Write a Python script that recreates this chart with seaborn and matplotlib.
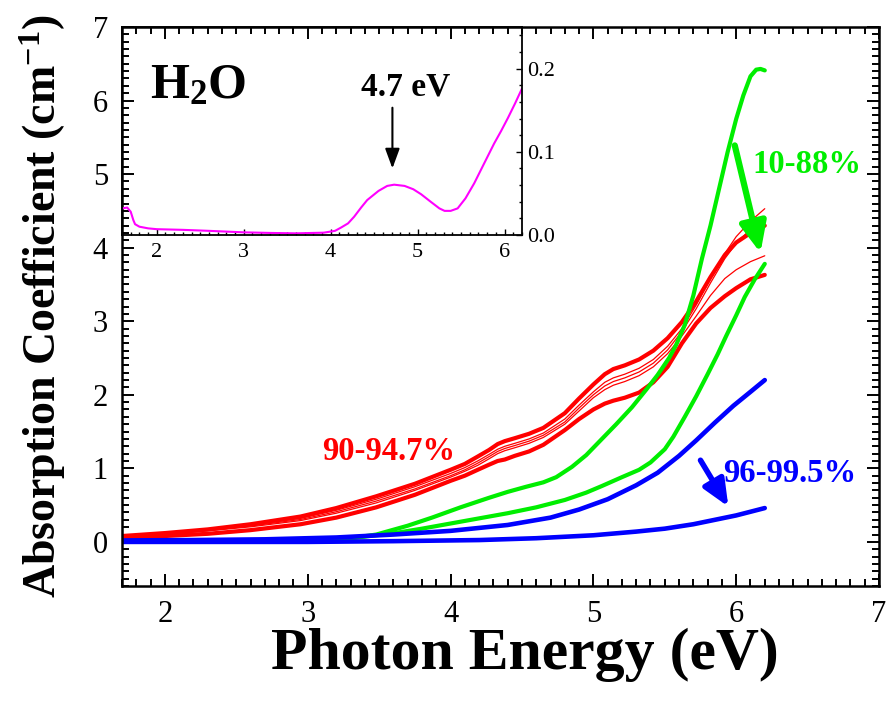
import numpy as np
import pandas as pd
import matplotlib
matplotlib.use("Agg")
import matplotlib.pyplot as plt
from matplotlib.ticker import MultipleLocator
import seaborn as sns

# ---------------- data ----------------
red_x = [1.7, 2.0, 2.3, 2.6, 2.95, 3.2, 3.48, 3.75, 4.0, 4.1, 4.19, 4.27, 4.33,
         4.38, 4.45, 4.55, 4.65, 4.8, 4.9, 5.0, 5.08, 5.14, 5.22, 5.32, 5.42,
         5.52, 5.62, 5.72, 5.82, 5.92, 6.0, 6.1, 6.2]
red_top = [0.08, 0.12, 0.17, 0.24, 0.345, 0.46, 0.62, 0.79, 0.98, 1.06, 1.16, 1.25,
           1.33, 1.37, 1.41, 1.47, 1.55, 1.75, 1.95, 2.14, 2.28, 2.35, 2.40, 2.48,
           2.60, 2.77, 2.99, 3.27, 3.60, 3.90, 4.07, 4.20, 4.30]
red_thin1 = [0.075, 0.11, 0.16, 0.225, 0.32, 0.43, 0.58, 0.75, 0.93, 1.01, 1.10,
             1.19, 1.26, 1.30, 1.34, 1.40, 1.48, 1.67, 1.86, 2.04, 2.17, 2.23, 2.28,
             2.36, 2.48, 2.66, 2.90, 3.22, 3.58, 3.92, 4.15, 4.36, 4.53]
red_thin2 = [0.07, 0.105, 0.155, 0.215, 0.305, 0.41, 0.555, 0.72, 0.90, 0.98, 1.07,
             1.16, 1.23, 1.27, 1.31, 1.37, 1.45, 1.63, 1.82, 2.00, 2.12, 2.18, 2.23,
             2.31, 2.43, 2.61, 2.86, 3.17, 3.52, 3.85, 4.06, 4.25, 4.39]
red_thin3 = [0.065, 0.10, 0.15, 0.205, 0.29, 0.39, 0.53, 0.70, 0.88, 0.96, 1.04,
             1.13, 1.20, 1.24, 1.28, 1.34, 1.42, 1.60, 1.78, 1.96, 2.07, 2.13, 2.18,
             2.26, 2.38, 2.56, 2.80, 3.07, 3.35, 3.58, 3.70, 3.81, 3.89]
red_bot = [0.05, 0.08, 0.11, 0.16, 0.24, 0.33, 0.47, 0.64, 0.83, 0.90, 0.98, 1.05,
           1.10, 1.12, 1.17, 1.23, 1.32, 1.52, 1.67, 1.80, 1.88, 1.92, 1.96, 2.03,
           2.17, 2.38, 2.70, 2.97, 3.18, 3.34, 3.45, 3.57, 3.63]

green1_x = [1.7, 2.5, 3.0, 3.3, 3.48, 3.7, 3.87, 4.07, 4.27, 4.4, 4.53, 4.65, 4.74,
            4.85, 4.95, 5.05, 5.16, 5.27, 5.37, 5.45, 5.53, 5.58, 5.64, 5.7, 5.76,
            5.82, 5.88, 5.94, 6.0, 6.05, 6.1, 6.14, 6.17, 6.2]
green1_y = [0.0, 0.0, 0.02, 0.05, 0.10, 0.22, 0.33, 0.47, 0.60, 0.68, 0.75, 0.81,
            0.88, 1.02, 1.18, 1.38, 1.60, 1.83, 2.07, 2.27, 2.50, 2.68, 2.95, 3.35,
            3.85, 4.30, 4.80, 5.30, 5.75, 6.07, 6.33, 6.42, 6.43, 6.41]
green2_x = [1.7, 2.5, 3.0, 3.3, 3.61, 3.8, 4.0, 4.2, 4.4, 4.6, 4.8, 4.95, 5.06, 5.2,
            5.32, 5.4, 5.5, 5.56, 5.64, 5.72, 5.8, 5.87, 5.93, 6.0, 6.06, 6.13, 6.2]
green2_y = [0.0, 0.0, 0.02, 0.05, 0.12, 0.18, 0.25, 0.32, 0.39, 0.47, 0.57, 0.67,
            0.76, 0.88, 0.98, 1.08, 1.26, 1.43, 1.70, 1.98, 2.28, 2.55, 2.80, 3.08,
            3.33, 3.57, 3.78]

blue1_x = [1.7, 2.2, 2.7, 3.2, 3.6, 4.0, 4.4, 4.7, 4.9, 5.1, 5.3, 5.45, 5.6, 5.72,
           5.85, 5.98, 6.1, 6.2]
blue1_y = [0.02, 0.025, 0.035, 0.06, 0.10, 0.15, 0.23, 0.33, 0.44, 0.58, 0.77, 0.94,
           1.17, 1.38, 1.62, 1.85, 2.04, 2.20]
blue2_x = [1.7, 3.0, 3.6, 4.2, 4.6, 5.0, 5.3, 5.5, 5.7, 5.85, 6.0, 6.1, 6.2]
blue2_y = [0.0, 0.0, 0.01, 0.025, 0.05, 0.09, 0.14, 0.18, 0.24, 0.30, 0.36, 0.41, 0.46]

water_x = [1.6, 1.66, 1.7, 1.73, 1.75, 1.8, 1.9, 2.0, 2.3, 2.6, 3.0, 3.3, 3.6, 3.92,
           4.05, 4.12, 4.2, 4.27, 4.35, 4.42, 4.55, 4.65, 4.73, 4.85, 4.95, 5.04,
           5.15, 5.25, 5.31, 5.38, 5.46, 5.55, 5.65, 5.76, 5.88, 5.96, 6.04, 6.12, 6.2]
water_y = [0.032, 0.033, 0.028, 0.018, 0.013, 0.010, 0.008, 0.007, 0.0062, 0.005,
           0.0032, 0.0025, 0.002, 0.0028, 0.005, 0.009, 0.014, 0.022, 0.033, 0.042,
           0.053, 0.059, 0.0605, 0.059, 0.055, 0.049, 0.040, 0.032, 0.029, 0.029,
           0.032, 0.044, 0.062, 0.085, 0.110, 0.125, 0.141, 0.158, 0.176]

main_xticks = [2, 3, 4, 5, 6, 7]
main_yticks = [0, 1, 2, 3, 4, 5, 6, 7]
inset_xticks = [2, 3, 4, 5, 6]
inset_yticks = [0.0, 0.1, 0.2]
inset_yticklabels = ["0.0", "0.1", "0.2"]

# ---------------- style ----------------
sns.set_style("ticks")
plt.rcParams["font.family"] = ["Liberation Serif", "DejaVu Serif"]
plt.rcParams["mathtext.fontset"] = "custom"
plt.rcParams["mathtext.rm"] = "Liberation Serif"
plt.rcParams["mathtext.bf"] = "Liberation Serif:bold"
plt.rcParams["mathtext.default"] = "bf"
for k in ["text.color", "axes.labelcolor", "xtick.color", "ytick.color",
          "axes.edgecolor"]:
    plt.rcParams[k] = "black"

RED, GREEN, BLUE, MAG = "#ff0000", "#00ee00", "#0000ff", "#ff00ff"

fig = plt.figure(figsize=(8.88, 7.07), dpi=100)
ax = fig.add_axes([0.1374, 0.1711, 0.8525, 0.7907])

def draw(a, x, y, color, lw):
    sns.lineplot(x=x, y=y, ax=a, color=color, linewidth=lw, sort=False,
                 estimator=None, legend=False, solid_joinstyle="round",
                 solid_capstyle="round")

for yy, lw in [(red_top, 3.0), (red_thin1, 0.9), (red_thin2, 0.9),
               (red_thin3, 0.9), (red_bot, 3.0)]:
    draw(ax, red_x, yy, RED, lw)
draw(ax, green1_x, green1_y, GREEN, 3.0)
draw(ax, green2_x, green2_y, GREEN, 3.0)
draw(ax, blue1_x, blue1_y, BLUE, 3.3)
draw(ax, blue2_x, blue2_y, BLUE, 3.3)

ax.set_xlim(1.7, 7)
ax.set_ylim(-0.6, 7)
ax.set_xticks(main_xticks)
ax.set_yticks(main_yticks)
ax.xaxis.set_minor_locator(MultipleLocator(0.1))
ax.yaxis.set_minor_locator(MultipleLocator(0.1))
ax.tick_params(which="both", direction="in", top=True, right=True, width=1.4,
               color="black", labelcolor="black")
ax.tick_params(which="major", length=8.5, labelsize=22, pad=10)
ax.tick_params(which="minor", length=5)
for s in ax.spines.values():
    s.set_linewidth(1.8)
    s.set_color("black")

ax.set_xlabel("Photon Energy (eV)", fontsize=43, fontweight="bold", labelpad=2)
ax.xaxis.set_label_coords(0.532, -0.075, transform=ax.transAxes)
ax.xaxis.label.set_va("top")
ax.set_ylabel("Absorption Coefficient (cm$^{-1}$)", fontsize=33,
              fontweight="bold", labelpad=18)

# labels on the main plot
ax.text(3.10, 1.11, "90-94.7%", color=RED, fontsize=23.5, fontweight="bold",
        ha="left", va="baseline")
ax.text(6.11, 5.01, "10-88%", color=GREEN, fontsize=23.5, fontweight="bold",
        ha="left", va="baseline")
ax.text(5.91, 0.82, "96-99.5%", color=BLUE, fontsize=23.5, fontweight="bold",
        ha="left", va="baseline")

ax.annotate("", xy=(6.17, 3.93), xytext=(5.99, 5.39),
            arrowprops=dict(arrowstyle="-|>,head_length=0.9,head_width=0.4",
                            lw=4.5, color=GREEN, shrinkA=0, shrinkB=0,
                            mutation_scale=20))
ax.annotate("", xy=(5.945, 0.48), xytext=(5.75, 1.11),
            arrowprops=dict(arrowstyle="-|>,head_length=0.8,head_width=0.35",
                            lw=4, color=BLUE, shrinkA=0, shrinkB=0,
                            mutation_scale=20))

# ---------------- inset ----------------
ins = fig.add_axes([0.1374, 0.6676, 0.4504, 0.2942])
ins.set_facecolor("none")
draw(ins, water_x, water_y, MAG, 1.5)
ins.set_xlim(1.6, 6.2)
ins.set_ylim(0.0, 0.25)
ins.set_xticks(inset_xticks)
ins.set_yticks(inset_yticks)
ins.set_yticklabels(inset_yticklabels)
ins.xaxis.set_minor_locator(MultipleLocator(0.1))
ins.yaxis.set_minor_locator(MultipleLocator(0.02))
ins.yaxis.tick_right()
ins.tick_params(which="both", direction="in", top=False, left=False,
                right=True, bottom=True, width=1.0, color="black",
                labelcolor="black")
ins.tick_params(which="major", length=4.5, labelsize=16, pad=4)
ins.tick_params(axis="x", which="major", pad=6)
ins.tick_params(which="minor", length=2.2)
ins.set_xlabel("")
ins.set_ylabel("")
for s in ins.spines.values():
    s.set_linewidth(1.3)
    s.set_color("black")

ins.text(0.07, 0.659, "H$_{2}$O", transform=ins.transAxes, fontsize=36,
         fontweight="bold", ha="left", va="baseline")
ins.text(4.345, 0.1673, "4.7 eV", fontsize=24, fontweight="bold",
         ha="left", va="baseline")
ins.annotate("", xy=(4.71, 0.080), xytext=(4.71, 0.153),
             arrowprops=dict(arrowstyle="-|>,head_length=0.6,head_width=0.22",
                             lw=1.5, color="black", shrinkA=0, shrinkB=0,
                             mutation_scale=20))

fig.savefig("out.png", dpi=100)
